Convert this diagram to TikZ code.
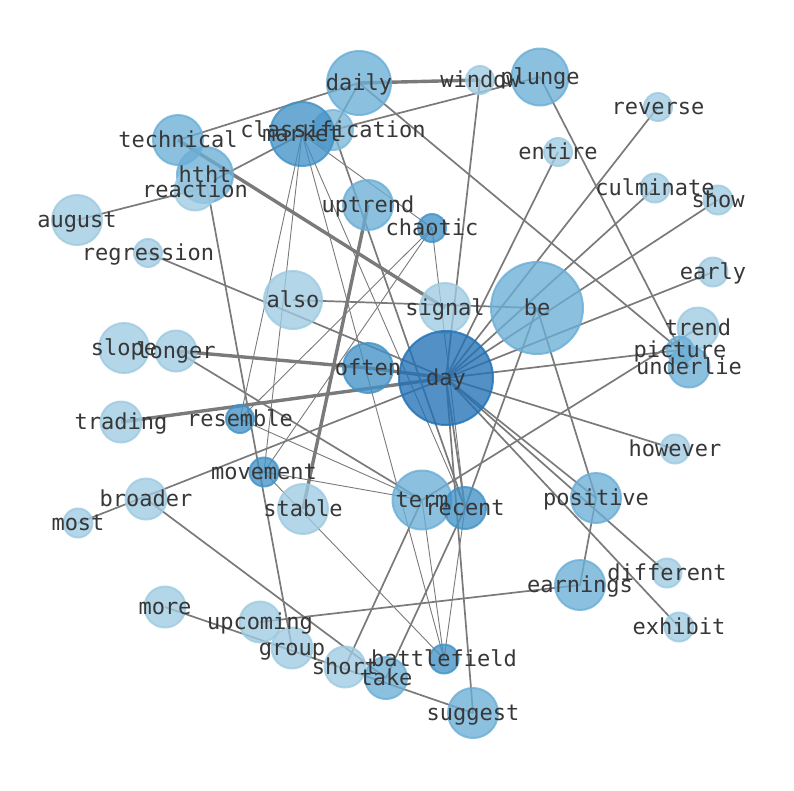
\documentclass[tikz,border=0pt]{standalone}
\usepackage{fontspec}
\newfontfamily\labfont{DejaVu Sans Mono}
\definecolor{cL}{RGB}{158,202,225}
\definecolor{cM}{RGB}{107,174,214}
\definecolor{cD}{RGB}{66,146,198}
\definecolor{cX}{RGB}{33,113,181}
\definecolor{edgec}{RGB}{122,122,122}
\definecolor{labc}{RGB}{55,55,55}
\begin{document}
\begin{tikzpicture}[x=1pt,y=-1pt,
  ew/.style={draw=edgec,line width=1.7pt},
  et/.style={draw=edgec,line width=3.4pt},
  en/.style={draw=edgec,line width=0.9pt},
  vtx/.style={circle,inner sep=0pt,line width=2pt,fill opacity=0.78,draw opacity=0.8},
  lab/.style={font=\labfont\fontsize{22}{26}\selectfont,text=labc,inner sep=0pt,text height=16pt,text depth=5pt,yshift=-2pt}]
\useasboundingbox (0,0) rectangle (794,790);
% positions
\coordinate (daily) at (359,83);
\coordinate (window) at (480,80);
\coordinate (plunge) at (540,77);
\coordinate (reverse) at (658,107);
\coordinate (technical) at (178,140);
\coordinate (classification) at (333,130);
\coordinate (market) at (302,134);
\coordinate (hthth) at (205,175);
\coordinate (reaction) at (195,190);
\coordinate (entire) at (558,152);
\coordinate (august) at (77,220);
\coordinate (uptrend) at (368,205);
\coordinate (chaotic) at (432,228);
\coordinate (culminate) at (655,188);
\coordinate (show) at (718,200);
\coordinate (regression) at (148,253);
\coordinate (early) at (713,272);
\coordinate (also) at (293,300);
\coordinate (signal) at (445,308);
\coordinate (be) at (537,308);
\coordinate (trend) at (698,328);
\coordinate (picture) at (680,350);
\coordinate (underlie) at (689,367);
\coordinate (slope) at (124,348);
\coordinate (longer) at (176,351);
\coordinate (often) at (368,368);
\coordinate (day) at (446,378);
\coordinate (trading) at (121,422);
\coordinate (resemble) at (240,419);
\coordinate (however) at (675,449);
\coordinate (movement) at (264,472);
\coordinate (broader) at (146,499);
\coordinate (term) at (422,500);
\coordinate (recent) at (465,508);
\coordinate (positive) at (596,498);
\coordinate (stable) at (303,509);
\coordinate (most) at (78,523);
\coordinate (different) at (667,573);
\coordinate (earnings) at (580,585);
\coordinate (more) at (165,607);
\coordinate (upcoming) at (260,622);
\coordinate (exhibit) at (679,627);
\coordinate (group) at (292,648);
\coordinate (battlefield) at (444,659);
\coordinate (short) at (345,667);
\coordinate (take) at (386,678);
\coordinate (suggest) at (473,713);
% edges
\draw[et] (daily) -- (window);
\draw[ew] (daily) -- (technical);
\draw[ew] (daily) -- (classification);
\draw[ew] (daily) -- (picture);
\draw[ew] (classification) -- (plunge);
\draw[ew] (classification) -- (recent);
\draw[ew] (market) -- (reaction);
\draw[ew] (august) -- (reaction);
\draw[en] (market) -- (resemble);
\draw[en] (market) -- (movement);
\draw[en] (market) -- (battlefield);
\draw[en] (market) -- (recent);
\draw[en] (market) -- (chaotic);
\draw[et] (technical) -- (signal);
\draw[ew] (hthth) -- (group);
\draw[ew] (window) -- (day);
\draw[ew] (plunge) -- (underlie);
\draw[ew] (reverse) -- (day);
\draw[ew] (entire) -- (day);
\draw[ew] (culminate) -- (day);
\draw[ew] (show) -- (day);
\draw[ew] (early) -- (day);
\draw[ew] (day) -- (picture);
\draw[ew] (day) -- (however);
\draw[ew] (day) -- (positive);
\draw[ew] (day) -- (different);
\draw[ew] (day) -- (exhibit);
\draw[ew] (day) -- (suggest);
\draw[ew] (day) -- (recent);
\draw[ew] (be) -- (positive);
\draw[ew] (be) -- (recent);
\draw[ew] (also) -- (be);
\draw[ew] (regression) -- (day);
\draw[et] (longer) -- (often);
\draw[et] (often) -- (day);
\draw[et] (trading) -- (day);
\draw[ew] (most) -- (day);
\draw[ew] (broader) -- (take);
\draw[ew] (longer) -- (term);
\draw[et] (uptrend) -- (stable);
\draw[ew] (positive) -- (earnings);
\draw[ew] (earnings) -- (upcoming);
\draw[ew] (more) -- (suggest);
\draw[ew] (term) -- (short);
\draw[ew] (recent) -- (take);
\draw[en] (recent) -- (battlefield);
\draw[en] (term) -- (battlefield);
\draw[en] (movement) -- (battlefield);
\draw[en] (movement) -- (term);
\draw[en] (resemble) -- (term);
\draw[en] (chaotic) -- (movement);
\draw[en] (chaotic) -- (resemble);
\draw[en] (chaotic) -- (recent);
\draw[ew] (trend) -- (term);
% vertices
\node[vtx,fill=cM,draw=cM,minimum size=64pt] (v-daily) at (daily) {};
\node[vtx,fill=cL,draw=cL,minimum size=28pt] (v-window) at (window) {};
\node[vtx,fill=cM,draw=cM,minimum size=57pt] (v-plunge) at (plunge) {};
\node[vtx,fill=cL,draw=cL,minimum size=28pt] (v-reverse) at (reverse) {};
\node[vtx,fill=cM,draw=cM,minimum size=50pt] (v-technical) at (technical) {};
\node[vtx,fill=cM!70!cL,draw=cM!70!cL,minimum size=40pt] (v-classification) at (classification) {};
\node[vtx,fill=cD,draw=cD,minimum size=64pt] (v-market) at (market) {};
\node[vtx,fill=cM,draw=cM,minimum size=56pt] (v-hthth) at (hthth) {};
\node[vtx,fill=cL,draw=cL,minimum size=41pt] (v-reaction) at (reaction) {};
\node[vtx,fill=cL,draw=cL,minimum size=28pt] (v-entire) at (entire) {};
\node[vtx,fill=cL,draw=cL,minimum size=50pt] (v-august) at (august) {};
\node[vtx,fill=cM,draw=cM,minimum size=50pt] (v-uptrend) at (uptrend) {};
\node[vtx,fill=cD,draw=cD,minimum size=28pt] (v-chaotic) at (chaotic) {};
\node[vtx,fill=cL,draw=cL,minimum size=29pt] (v-culminate) at (culminate) {};
\node[vtx,fill=cL,draw=cL,minimum size=29pt] (v-show) at (show) {};
\node[vtx,fill=cL,draw=cL,minimum size=28pt] (v-regression) at (regression) {};
\node[vtx,fill=cL,draw=cL,minimum size=29pt] (v-early) at (early) {};
\node[vtx,fill=cL,draw=cL,minimum size=58pt] (v-also) at (also) {};
\node[vtx,fill=cL,draw=cL,minimum size=50pt] (v-signal) at (signal) {};
\node[vtx,fill=cM,draw=cM,minimum size=92pt] (v-be) at (be) {};
\node[vtx,fill=cL,draw=cL,minimum size=41pt] (v-trend) at (trend) {};
\node[vtx,fill=cM,draw=cM,minimum size=27pt] (v-picture) at (picture) {};
\node[vtx,fill=cM,draw=cM,minimum size=41pt] (v-underlie) at (underlie) {};
\node[vtx,fill=cL,draw=cL,minimum size=50pt] (v-slope) at (slope) {};
\node[vtx,fill=cL,draw=cL,minimum size=41pt] (v-longer) at (longer) {};
\node[vtx,fill=cD,draw=cD,minimum size=50pt] (v-often) at (often) {};
\node[vtx,fill=cX,draw=cX,minimum size=94pt] (v-day) at (day) {};
\node[vtx,fill=cL,draw=cL,minimum size=41pt] (v-trading) at (trading) {};
\node[vtx,fill=cD,draw=cD,minimum size=28pt] (v-resemble) at (resemble) {};
\node[vtx,fill=cL,draw=cL,minimum size=29pt] (v-however) at (however) {};
\node[vtx,fill=cD,draw=cD,minimum size=29pt] (v-movement) at (movement) {};
\node[vtx,fill=cL,draw=cL,minimum size=41pt] (v-broader) at (broader) {};
\node[vtx,fill=cM,draw=cM,minimum size=59pt] (v-term) at (term) {};
\node[vtx,fill=cD,draw=cD,minimum size=42pt] (v-recent) at (recent) {};
\node[vtx,fill=cM,draw=cM,minimum size=50pt] (v-positive) at (positive) {};
\node[vtx,fill=cL,draw=cL,minimum size=50pt] (v-stable) at (stable) {};
\node[vtx,fill=cL,draw=cL,minimum size=29pt] (v-most) at (most) {};
\node[vtx,fill=cL,draw=cL,minimum size=29pt] (v-different) at (different) {};
\node[vtx,fill=cM,draw=cM,minimum size=50pt] (v-earnings) at (earnings) {};
\node[vtx,fill=cL,draw=cL,minimum size=41pt] (v-more) at (more) {};
\node[vtx,fill=cL,draw=cL,minimum size=41pt] (v-upcoming) at (upcoming) {};
\node[vtx,fill=cL,draw=cL,minimum size=29pt] (v-exhibit) at (exhibit) {};
\node[vtx,fill=cL,draw=cL,minimum size=41pt] (v-group) at (group) {};
\node[vtx,fill=cD,draw=cD,minimum size=29pt] (v-battlefield) at (battlefield) {};
\node[vtx,fill=cL,draw=cL,minimum size=41pt] (v-short) at (short) {};
\node[vtx,fill=cM,draw=cM,minimum size=42pt] (v-take) at (take) {};
\node[vtx,fill=cM,draw=cM,minimum size=50pt] (v-suggest) at (suggest) {};
% labels
\node[lab] (t-daily) at (daily) {daily};
\node[lab] (t-window) at (window) {window};
\node[lab] (t-plunge) at (plunge) {plunge};
\node[lab] (t-reverse) at (reverse) {reverse};
\node[lab] (t-technical) at (technical) {technical};
\node[lab] (t-classification) at (classification) {classification};
\node[lab] (t-market) at (market) {market};
\node[lab] (t-hthth) at (hthth) {htht};
\node[lab] (t-reaction) at (reaction) {reaction};
\node[lab] (t-entire) at (entire) {entire};
\node[lab] (t-august) at (august) {august};
\node[lab] (t-uptrend) at (uptrend) {uptrend};
\node[lab] (t-chaotic) at (chaotic) {chaotic};
\node[lab] (t-culminate) at (culminate) {culminate};
\node[lab] (t-show) at (show) {show};
\node[lab] (t-regression) at (regression) {regression};
\node[lab] (t-early) at (early) {early};
\node[lab] (t-also) at (also) {also};
\node[lab] (t-signal) at (signal) {signal};
\node[lab] (t-be) at (be) {be};
\node[lab] (t-trend) at (trend) {trend};
\node[lab] (t-picture) at (picture) {picture};
\node[lab] (t-underlie) at (underlie) {underlie};
\node[lab] (t-slope) at (slope) {slope};
\node[lab] (t-longer) at (longer) {longer};
\node[lab] (t-often) at (often) {often};
\node[lab] (t-day) at (day) {day};
\node[lab] (t-trading) at (trading) {trading};
\node[lab] (t-resemble) at (resemble) {resemble};
\node[lab] (t-however) at (however) {however};
\node[lab] (t-movement) at (movement) {movement};
\node[lab] (t-broader) at (broader) {broader};
\node[lab] (t-term) at (term) {term};
\node[lab] (t-recent) at (recent) {recent};
\node[lab] (t-positive) at (positive) {positive};
\node[lab] (t-stable) at (stable) {stable};
\node[lab] (t-most) at (most) {most};
\node[lab] (t-different) at (different) {different};
\node[lab] (t-earnings) at (earnings) {earnings};
\node[lab] (t-more) at (more) {more};
\node[lab] (t-upcoming) at (upcoming) {upcoming};
\node[lab] (t-exhibit) at (exhibit) {exhibit};
\node[lab] (t-group) at (group) {group};
\node[lab] (t-battlefield) at (battlefield) {battlefield};
\node[lab] (t-short) at (short) {short};
\node[lab] (t-take) at (take) {take};
\node[lab] (t-suggest) at (suggest) {suggest};
\end{tikzpicture}
\end{document}
